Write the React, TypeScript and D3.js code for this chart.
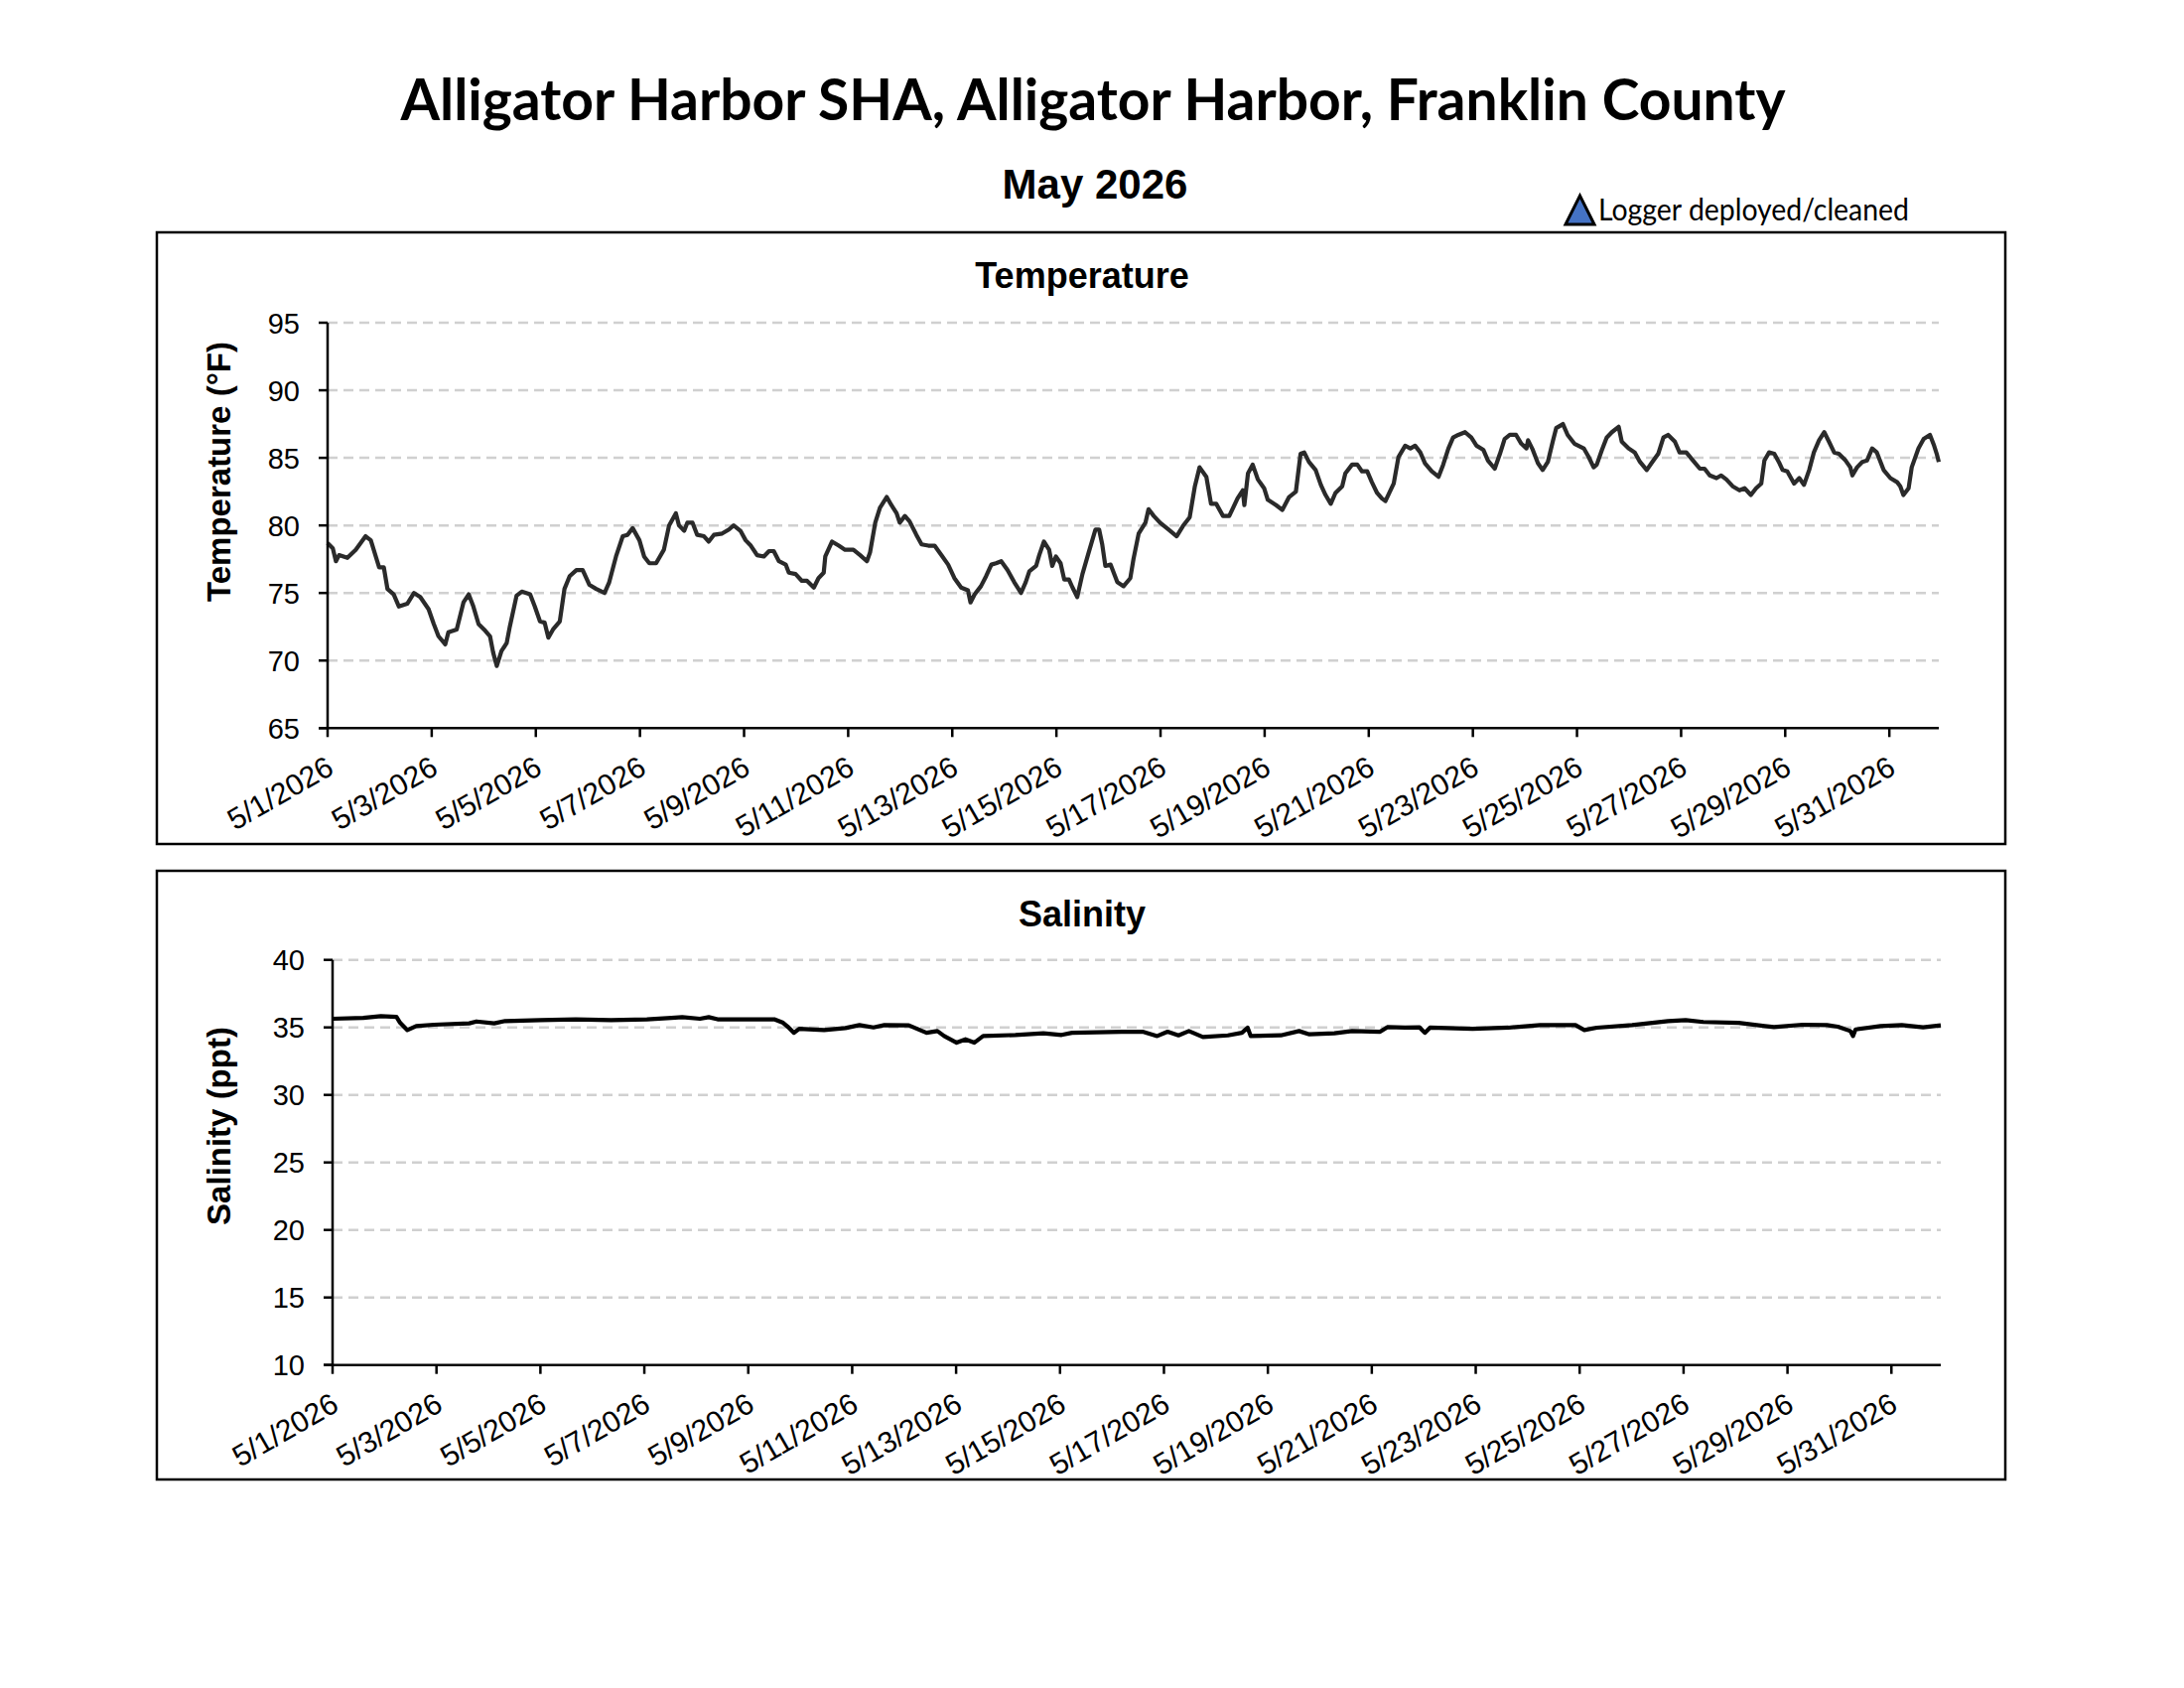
import * as d3 from 'd3'

// time in days after 5/1/2026 00:00
const tempDay = [
  0.00, 0.10, 0.16, 0.22, 0.38, 0.54, 0.73, 0.83, 0.99, 1.08, 1.15, 1.27, 1.37, 1.53, 1.66, 1.78,
  1.94, 2.04, 2.13, 2.26, 2.32, 2.48, 2.61, 2.71, 2.80, 2.90, 3.03, 3.12, 3.18, 3.25, 3.34, 3.44,
  3.50, 3.63, 3.73, 3.89, 3.98, 4.08, 4.17, 4.24, 4.33, 4.46, 4.55, 4.65, 4.78, 4.90, 5.03, 5.16,
  5.32, 5.41, 5.54, 5.67, 5.76, 5.86, 5.99, 6.08, 6.18, 6.31, 6.46, 6.56, 6.69, 6.75, 6.85, 6.91,
  7.01, 7.10, 7.23, 7.32, 7.42, 7.58, 7.71, 7.80, 7.93,
  8.03, 8.13, 8.25, 8.38, 8.48, 8.57, 8.67, 8.80, 8.86, 8.99, 9.11, 9.21, 9.34, 9.43, 9.53, 9.56,
  9.69, 9.82, 9.94, 10.10, 10.23, 10.36, 10.42, 10.52, 10.61, 10.74, 10.83, 10.93, 10.99, 11.09,
  11.18, 11.31, 11.41, 11.54, 11.66, 11.79, 11.92, 12.04, 12.17, 12.30, 12.35, 12.43, 12.55, 12.65,
  12.75, 12.84, 12.94, 13.06, 13.19, 13.32, 13.41, 13.48, 13.61, 13.67, 13.76, 13.86, 13.92, 13.99,
  14.08, 14.15, 14.24, 14.31, 14.40, 14.50, 14.62, 14.75, 14.82, 14.88, 14.94, 15.04, 15.17, 15.29,
  15.42, 15.48, 15.58, 15.71, 15.77, 15.87, 15.99,
  16.15, 16.31, 16.43, 16.56, 16.66, 16.75, 16.88, 16.97, 17.07, 17.20, 17.32, 17.48, 17.58, 17.61,
  17.68, 17.77, 17.87, 17.99, 18.06, 18.22, 18.34, 18.47, 18.60, 18.69, 18.76, 18.85, 18.98, 19.08,
  19.17, 19.27, 19.36, 19.49, 19.55, 19.68, 19.78, 19.87, 19.97, 20.06, 20.16, 20.25, 20.32, 20.48,
  20.57, 20.70, 20.80, 20.89, 20.99, 21.08, 21.21, 21.34, 21.43, 21.53, 21.62, 21.72, 21.85, 21.97,
  22.07, 22.20, 22.29, 22.42, 22.52, 22.61, 22.71, 22.83, 22.93, 23.03, 23.06, 23.15, 23.25, 23.34,
  23.44, 23.54, 23.60, 23.73, 23.82, 23.95,
  24.13, 24.22, 24.32, 24.38, 24.48, 24.57, 24.67, 24.80, 24.86, 24.99, 25.11, 25.21, 25.34, 25.43,
  25.56, 25.66, 25.75, 25.88, 25.97, 26.10, 26.23, 26.36, 26.45, 26.55, 26.68, 26.77, 26.87, 26.99,
  27.12, 27.22, 27.34, 27.44, 27.54, 27.60, 27.69, 27.79, 27.89, 27.95, 28.04, 28.17, 28.27, 28.36,
  28.46, 28.55, 28.65, 28.75, 28.84, 28.94, 29.03, 29.16, 29.25, 29.29, 29.38, 29.48, 29.57, 29.67,
  29.76, 29.89, 30.02, 30.15, 30.21, 30.27, 30.37, 30.43, 30.56, 30.66, 30.78, 30.86, 30.91, 30.95,
]

const tempF = [
  78.7, 78.3, 77.35, 77.8, 77.6, 78.2, 79.2, 78.9, 76.9, 76.9, 75.3, 74.9, 74.0, 74.2, 75.0, 74.7,
  73.8, 72.7, 71.8, 71.2, 72.1, 72.3, 74.3, 74.9, 74.0, 72.7, 72.2, 71.8, 70.6, 69.6, 70.7, 71.3,
  72.5, 74.8, 75.1, 74.9, 74.0, 72.9, 72.8, 71.7, 72.3, 72.9, 75.3, 76.25, 76.7, 76.7, 75.6, 75.3,
  75.0, 75.8, 77.7, 79.2, 79.3, 79.8, 78.9, 77.7, 77.2, 77.2, 78.2, 80.0, 80.9, 80.0, 79.6, 80.2,
  80.2, 79.3, 79.2, 78.8, 79.3, 79.4, 79.7, 80.0, 79.6,
  78.9, 78.5, 77.8, 77.7, 78.1, 78.1, 77.35, 77.1, 76.5, 76.4, 75.9, 75.9, 75.4, 76.1, 76.5, 77.7,
  78.8, 78.5, 78.2, 78.2, 77.8, 77.35, 78.0, 80.2, 81.3, 82.1, 81.5, 80.9, 80.2, 80.7,
  80.3, 79.3, 78.6, 78.5, 78.5, 77.8, 77.1, 76.1, 75.4, 75.2, 74.3, 74.9, 75.5, 76.25,
  77.1, 77.2, 77.35, 76.7, 75.8, 75.0, 75.8, 76.6, 77.0, 77.8, 78.8, 78.2, 77.0, 77.7,
  77.2, 76.0, 76.0, 75.4, 74.7, 76.4, 78.0, 79.7, 79.7, 78.6, 77.0, 77.1, 75.8, 75.5,
  76.1, 77.5, 79.4, 80.2, 81.2, 80.7, 80.2,
  79.7, 79.2, 79.95, 80.6, 82.9, 84.3, 83.6, 81.6, 81.6, 80.7, 80.7, 82.0, 82.6, 81.5,
  83.85, 84.5, 83.4, 82.75, 81.9, 81.5, 81.15, 82.1, 82.5, 85.3, 85.4, 84.7, 84.1, 83.0,
  82.25, 81.6, 82.4, 82.9, 83.85, 84.5, 84.5, 84.0, 84.0, 83.2, 82.4, 82.0, 81.8, 83.1,
  85.05, 85.9, 85.7, 85.9, 85.4, 84.6, 84.0, 83.6, 84.5, 85.7, 86.5, 86.7, 86.9, 86.5,
  85.9, 85.6, 84.8, 84.2, 85.3, 86.4, 86.7, 86.7, 86.05, 85.7, 86.3, 85.6, 84.6, 84.1,
  84.7, 86.3, 87.2, 87.5, 86.7, 86.05,
  85.7, 85.1, 84.3, 84.5, 85.6, 86.5, 86.9, 87.3, 86.2, 85.7, 85.4, 84.7, 84.1, 84.6,
  85.3, 86.5, 86.7, 86.2, 85.4, 85.4, 84.8, 84.2, 84.2, 83.7, 83.5, 83.7, 83.4, 82.9,
  82.6, 82.75, 82.25, 82.75, 83.1, 84.8, 85.4, 85.3, 84.6, 84.1, 84.0, 83.1, 83.5, 83.0,
  84.1, 85.4, 86.3, 86.9, 86.2, 85.4, 85.3, 84.8, 84.3, 83.7, 84.3, 84.7, 84.8, 85.7,
  85.4, 84.1, 83.5, 83.2, 82.9, 82.25, 82.75, 84.3, 85.7, 86.4, 86.7, 85.9, 85.3, 84.7,
]

const salDay = [
  0.00, 0.59, 0.93, 1.23, 1.30, 1.44, 1.61, 1.95, 2.63, 2.77, 3.11, 3.32, 4.00, 4.68, 5.36, 6.05,
  6.52, 6.73, 7.07, 7.24, 7.41, 8.50, 8.67, 8.78, 8.88, 8.98, 9.46, 9.87, 10.14, 10.41,
  10.62, 11.09, 11.43, 11.64, 11.77, 12.01, 12.18, 12.35, 12.52, 13.14, 13.68, 14.03, 14.23, 15.18,
  15.59, 15.87, 16.07, 16.28, 16.48, 16.75, 17.23, 17.50, 17.61, 17.67, 18.25, 18.60, 18.80, 19.28,
  19.62, 20.16, 20.30, 20.64, 20.92, 21.02, 21.12, 21.94, 22.63, 23.24, 23.92, 24.09, 24.33, 25.01,
  25.70, 26.04, 26.38, 27.06, 27.74, 28.29, 28.76, 28.97, 29.21, 29.26, 29.31, 29.79, 30.20, 30.61,
  30.95,
]

const salPpt = [
  35.64, 35.7, 35.83, 35.78, 35.34, 34.8, 35.1, 35.2, 35.3, 35.44, 35.3, 35.47, 35.54, 35.6, 35.54, 35.6,
  35.7, 35.76, 35.64, 35.76, 35.6, 35.6, 35.34, 34.98, 34.6, 34.9, 34.8, 34.95, 35.17, 35.0,
  35.17, 35.15, 34.6, 34.73, 34.36, 33.87, 34.12, 33.87, 34.36, 34.44, 34.56, 34.44, 34.6, 34.68,
  34.68, 34.36, 34.68, 34.41, 34.73, 34.29, 34.41, 34.6, 34.98, 34.36, 34.41, 34.73, 34.49, 34.56,
  34.73, 34.68, 35.02, 34.98, 35.0, 34.6, 34.98, 34.9, 34.98, 35.17, 35.17, 34.8, 34.98, 35.17,
  35.47, 35.54, 35.4, 35.34, 35.02, 35.2, 35.17, 35.05, 34.73, 34.36, 34.85, 35.1, 35.17, 35.0,
  35.15,
]

const tempTicks = [65, 70, 75, 80, 85, 90, 95]
const salTicks = [10, 15, 20, 25, 30, 35, 40]
const dateTickDays = [0, 2, 4, 6, 8, 10, 12, 14, 16, 18, 20, 22, 24, 26, 28, 30]

const startDate = new Date(2026, 4, 1)
const toDate = (day: number) => new Date(startDate.getTime() + day * 86400000)
const fmtDate = d3.timeFormat('%-m/%-d/%Y')

const ARIAL = '"Liberation Sans", Arial, sans-serif'
const CALIBRI = 'Lato, "Open Sans", sans-serif'

type PanelProps = {
  box: { x: number; y: number; w: number; h: number }
  plot: { left: number; right: number; top: number; bottom: number }
  title: string
  yTitle: string
  yTitleY: number
  ticks: number[]
  days: number[]
  values: number[]
  color: string
}

function Panel({ box, plot, title, yTitle, yTitleY, ticks, days, values, color }: PanelProps) {
  const x = d3.scaleTime()
    .domain([toDate(0), toDate(days[days.length - 1])])
    .range([plot.left, plot.right])
  const y = d3.scaleLinear()
    .domain([ticks[0], ticks[ticks.length - 1]])
    .range([plot.bottom, plot.top])

  const pts = days.map((d, i) => ({ date: toDate(d), value: values[i] }))
  const line = d3.line<typeof pts[number]>()
    .x(d => x(d.date))
    .y(d => y(d.value))

  return (
    <g>
      <rect x={box.x} y={box.y} width={box.w} height={box.h} fill="#fff" stroke="#000" strokeWidth={2.5} />
      <text x={box.x + box.w / 2 + 1} y={box.y + 56} textAnchor="middle"
        fontFamily={ARIAL} fontWeight="bold" fontSize={36}>{title}</text>

      {ticks.slice(1).map(t => (
        <line key={'g' + t} x1={plot.left} x2={plot.right} y1={y(t)} y2={y(t)}
          stroke="#d0d0d0" strokeWidth={2.5} strokeDasharray="10,6" />
      ))}

      <path d={line(pts) ?? ''} fill="none" stroke={color} strokeWidth={4.2} strokeLinejoin="round" />

      <line x1={plot.left} x2={plot.left} y1={plot.top} y2={plot.bottom} stroke="#000" strokeWidth={2.5} />
      <line x1={plot.left - 9} x2={plot.right} y1={plot.bottom} y2={plot.bottom} stroke="#000" strokeWidth={2.5} />

      {ticks.map(t => (
        <g key={'y' + t}>
          <line x1={plot.left - 9} x2={plot.left} y1={y(t)} y2={y(t)} stroke="#000" strokeWidth={2.5} />
          <text x={plot.left - 28} y={y(t) + 10.5} textAnchor="end"
            fontFamily={ARIAL} fontSize={29}>{t}</text>
        </g>
      ))}

      {dateTickDays.map(d => {
        const px = x(toDate(d))
        return (
          <g key={'x' + d}>
            <line x1={px} x2={px} y1={plot.bottom} y2={plot.bottom + 9} stroke="#000" strokeWidth={2.5} />
            <text transform={`translate(${px + 8},${plot.bottom + 45}) rotate(-30)`} textAnchor="end"
              fontFamily={ARIAL} fontSize={30}>{fmtDate(toDate(d))}</text>
          </g>
        )
      })}

      <text transform={`translate(232,${yTitleY}) rotate(-90)`} textAnchor="middle"
        fontFamily={ARIAL} fontWeight="bold" fontSize={33}>{yTitle}</text>
    </g>
  )
}

export default function App() {
  return (
    <svg width={2200} height={1700} style={{ position: 'absolute', left: 0, top: 0, background: '#fff' }}>
      <rect width={2200} height={1700} fill="#fff" />
      <text x={1101} y={121} textAnchor="middle" fontFamily={CALIBRI} fontWeight="bold" fontSize={57}
        textLength={1395} lengthAdjust="spacingAndGlyphs">
        Alligator Harbor SHA, Alligator Harbor, Franklin County
      </text>
      <text x={1103} y={200} textAnchor="middle" fontFamily={ARIAL} fontWeight="bold" fontSize={42}>May 2026</text>

      <path d="M1577,226 L1606,226 L1591.5,197 Z" fill="#4472c4" stroke="#000" strokeWidth={3} strokeLinejoin="miter" />
      <text x={1610} y={222} fontFamily={CALIBRI} fontSize={30} textLength={313} lengthAdjust="spacingAndGlyphs">
        Logger deployed/cleaned
      </text>

      <Panel
        box={{ x: 158, y: 234, w: 1862, h: 616 }}
        plot={{ left: 330, right: 1953, top: 325, bottom: 733.3 }}
        title="Temperature"
        yTitle="Temperature (°F)"
        yTitleY={475}
        ticks={tempTicks}
        days={tempDay}
        values={tempF}
        color="#2a2a2a"
      />
      <Panel
        box={{ x: 158, y: 877, w: 1862, h: 613 }}
        plot={{ left: 335, right: 1955, top: 966.7, bottom: 1374.7 }}
        title="Salinity"
        yTitle="Salinity (ppt)"
        yTitleY={1134}
        ticks={salTicks}
        days={salDay}
        values={salPpt}
        color="#000"
      />
    </svg>
  )
}
